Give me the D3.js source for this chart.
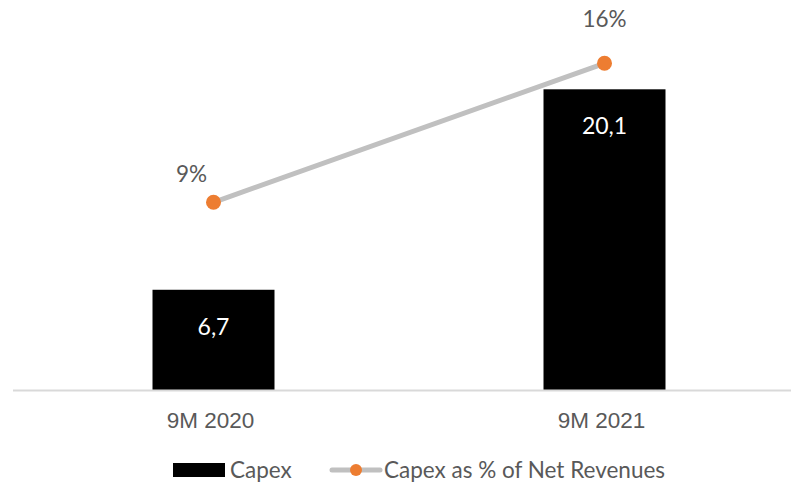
<!DOCTYPE html>
<html>
<head>
<meta charset="utf-8">
<script src="https://cdn.jsdelivr.net/npm/d3@7"></script>
<style>
  html, body { margin: 0; padding: 0; background: #fff; }
  svg { display: block; font-family: "Lato", "Open Sans", sans-serif; }
</style>
</head>
<body>
<svg id="chart" width="791" height="486"></svg>
<script>
// Capex (EUR m) and Capex as share of net revenues, nine-month periods
const categories = ["9M 2020", "9M 2021"];
const capexValues = [6.7, 20.1];
const capexLabels = ["6,7", "20,1"];
const capexPctValues = [0.09, 0.16];
const capexPctLabels = ["9%", "16%"];
const legendNames = ["Capex", "Capex as % of Net Revenues"];

const svg = d3.select("#chart");
const textColor = "#595959";
const lineColor = "#c0c0c0";
const dotColor = "#ed7d31";

const baseY = 390;

const x = d3.scaleBand()
  .domain(categories)
  .range([18, 800])
  .paddingInner(0.688)
  .paddingOuter(0.344);

// primary axis: Capex
const y = d3.scaleLinear().domain([0, 25]).range([baseY, baseY - 374]);
// secondary axis: percentage of net revenues
const y2 = d3.scaleLinear().domain([0, 0.18]).range([381, 23.6]);

// category axis
const xAxis = d3.axisBottom(x).tickSize(0).tickPadding(22);
const gx = svg.append("g")
  .attr("transform", `translate(0,${baseY})`)
  .call(xAxis);
gx.select(".domain").remove();
gx.selectAll("text")
  .attr("fill", textColor)
  .style("font-size", "22.5px")
  .attr("dx", "-3");

// bars
svg.append("g").selectAll("rect")
  .data(capexValues)
  .join("rect")
  .attr("x", (d, i) => x(categories[i]))
  .attr("y", d => y(d))
  .attr("width", x.bandwidth())
  .attr("height", d => baseY - y(d))
  .attr("fill", "#000");

// baseline
svg.append("line")
  .attr("x1", 13).attr("x2", 791)
  .attr("y1", baseY + 0.5).attr("y2", baseY + 0.5)
  .attr("stroke", "#d9d9d9").attr("stroke-width", 2);

// bar value labels
svg.append("g").selectAll("text")
  .data(capexValues)
  .join("text")
  .attr("x", (d, i) => x(categories[i]) + x.bandwidth() / 2)
  .attr("y", d => y(d) + 45)
  .attr("text-anchor", "middle")
  .attr("fill", "#fff")
  .style("font-size", "23px")
  .text((d, i) => capexLabels[i]);

// percentage line
const cx = (d, i) => x(categories[i]) + x.bandwidth() / 2;
const line = d3.line()
  .x((d, i) => cx(d, i))
  .y(d => y2(d));
svg.append("path")
  .datum(capexPctValues)
  .attr("d", line)
  .attr("fill", "none")
  .attr("stroke", lineColor)
  .attr("stroke-width", 5)
  .attr("stroke-linecap", "round");

svg.append("g").selectAll("circle")
  .data(capexPctValues)
  .join("circle")
  .attr("cx", cx)
  .attr("cy", d => y2(d))
  .attr("r", 7.5)
  .attr("fill", dotColor);

// percentage labels sit above their markers
svg.append("g").selectAll("text")
  .data(capexPctValues)
  .join("text")
  .attr("x", (d, i) => cx(d, i) + (i === 0 ? -22 : 0))
  .attr("y", (d, i) => y2(d) - (i === 0 ? 20 : 36))
  .attr("text-anchor", "middle")
  .attr("fill", textColor)
  .style("font-size", "22.5px")
  .text((d, i) => capexPctLabels[i]);

// legend
const lg = svg.append("g").attr("transform", "translate(0,470)");
lg.append("rect")
  .attr("x", 173).attr("y", -7).attr("width", 52).attr("height", 14)
  .attr("fill", "#000");
lg.append("text")
  .attr("x", 230).attr("y", 8)
  .attr("fill", textColor)
  .style("font-size", "22.5px")
  .text(legendNames[0]);
lg.append("line")
  .attr("x1", 332).attr("x2", 380).attr("y1", 0).attr("y2", 0)
  .attr("stroke", lineColor).attr("stroke-width", 5).attr("stroke-linecap", "round");
lg.append("circle")
  .attr("cx", 356).attr("cy", 0).attr("r", 6)
  .attr("fill", dotColor);
lg.append("text")
  .attr("x", 384).attr("y", 8)
  .attr("fill", textColor)
  .style("font-size", "22.5px")
  .text(legendNames[1]);
</script>
</body>
</html>
